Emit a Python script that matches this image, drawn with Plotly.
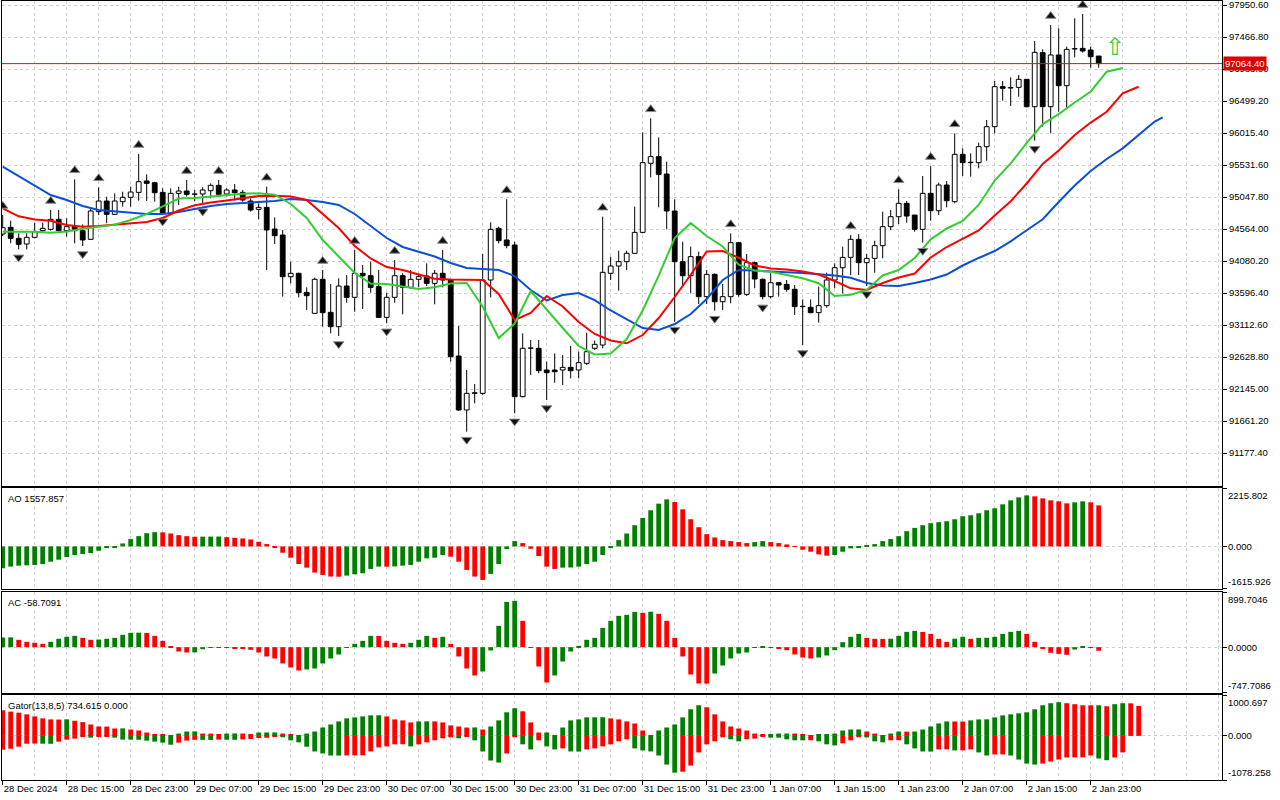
import plotly.graph_objects as go
from plotly.subplots import make_subplots

# ---------------- data ----------------
open_ = [94488, 94589, 94423, 94337, 94438, 94539, 94559, 94710, 94539, 94609,
         94539, 94408, 94826, 94987, 94786, 94977, 95043, 95118, 95290, 95264,
         95118, 94801, 95103, 95138, 95088, 95093, 95143, 95224, 95093, 95154,
         95118, 94987, 94861, 94891, 94564, 94473, 93843, 93894, 93606, 93289,
         93803, 93304, 93087, 93702, 93531, 93894, 93858, 93692, 93228, 93531,
         93858, 93682, 93803, 93853, 93742, 93894, 93793, 92644, 91827, 92079,
         92079, 93793, 94574, 94398, 94322, 92029, 92760, 92760, 92432, 92432,
         92432, 92472, 92432, 92533, 92760, 92810, 93894, 94004, 94070, 94196,
         94513, 95557, 95658, 95395, 94836, 94070, 93858, 94146, 93541, 93878,
         93465, 93541, 94357, 93576, 94055, 93803, 93541, 93752, 93727, 93652,
         93390, 93380, 93299, 93405, 93793, 93979, 94135, 94408, 94055, 94120,
         94312, 94599, 94750, 94952, 94775, 94559, 95103, 94841, 95229, 94977,
         95693, 95567, 95567, 95809, 96111, 96716, 96696, 96706, 96827, 96413,
         97230, 96413, 97195, 96731, 97285, 97295, 97270, 97179]
high = [94776, 94690, 94498, 94498, 94660, 94660, 94851, 94851, 94725, 95315,
        94634, 94876, 95194, 95053, 95103, 95128, 95204, 95698, 95390, 95279,
        95179, 95179, 95204, 95305, 95154, 95194, 95254, 95305, 95179, 95244,
        95154, 95028, 94952, 95204, 94740, 94549, 94070, 93904, 93682, 93828,
        93944, 93732, 93818, 93868, 94246, 94020, 94070, 93944, 93601, 94095,
        93894, 93944, 93894, 94045, 93944, 94246, 93803, 93097, 92432, 92220,
        94186, 94665, 94599, 95013, 94372, 92986, 92886, 92886, 92558, 92684,
        92659, 92795, 92709, 92996, 92875, 94750, 94146, 94236, 94236, 94902,
        96025, 96237, 95950, 95582, 95012, 94372, 94297, 94221, 93944, 93894,
        93732, 94498, 94367, 94186, 94070, 93818, 93894, 93757, 93793, 93717,
        93500, 93500, 93692, 93904, 94045, 94297, 94473, 94488, 94186, 94387,
        94826, 94851, 95164, 94987, 94775, 95365, 95516, 95264, 95290, 96010,
        95783, 95708, 95869, 96212, 96802, 96802, 96857, 96892, 96827, 97406,
        97280, 97648, 97598, 97321, 97749, 97815, 97321, 97179]
low = [94458, 94347, 94256, 94256, 94423, 94524, 94539, 94530, 94448, 94347,
       94307, 94398, 94775, 94650, 94775, 94902, 94902, 94992, 94987, 94977,
       94801, 94775, 94927, 95053, 94987, 94952, 95028, 95053, 95053, 94992,
       94977, 94826, 94710, 93944, 94337, 93541, 93742, 93531, 93339, 93279,
       93087, 92986, 92946, 93450, 93314, 93354, 93601, 93223, 93138, 93450,
       93274, 93657, 93682, 93702, 93425, 93682, 92558, 91812, 91500, 91928,
       92054, 93531, 94347, 94272, 91777, 92019, 92356, 92382, 91978, 92240,
       92205, 92306, 92306, 92508, 92734, 92760, 93793, 93631, 93944, 94196,
       94498, 95345, 94891, 94559, 93163, 93692, 93591, 93430, 93430, 93329,
       93339, 93440, 93541, 93551, 93667, 93500, 93516, 93541, 93616, 93264,
       92810, 93289, 93148, 93374, 93667, 93591, 93868, 93868, 93700, 93904,
       94120, 94549, 94639, 94660, 94523, 94357, 94690, 94775, 94891, 94952,
       95365, 95355, 95481, 95597, 96010, 96504, 96424, 96565, 96403, 95899,
       96111, 96010, 96338, 96403, 97159, 97230, 97003, 97003]
close = [94584, 94423, 94332, 94438, 94524, 94574, 94710, 94539, 94599, 94539,
         94398, 94836, 94987, 94786, 94987, 95043, 95123, 95279, 95254, 95113,
         94811, 95103, 95138, 95088, 95090, 95154, 95224, 95088, 95154, 95113,
         95002, 94851, 94891, 94549, 94463, 93843, 93894, 93601, 93556, 93803,
         93299, 93087, 93702, 93531, 93894, 93858, 93682, 93228, 93531, 93858,
         93682, 93803, 93843, 93742, 93894, 93793, 92634, 91827, 92079, 92089,
         93793, 94559, 94388, 94312, 92029, 92760, 92765, 92422, 92392, 92407,
         92472, 92422, 92543, 92709, 92820, 93909, 94004, 94070, 94196, 94513,
         95567, 95658, 95390, 94836, 94070, 93858, 94146, 93541, 93878, 93465,
         93541, 94357, 93576, 94055, 93808, 93541, 93752, 93717, 93652, 93390,
         93395, 93299, 93405, 93793, 93979, 94135, 94408, 94055, 94120, 94312,
         94599, 94750, 94952, 94760, 94559, 95103, 94841, 95229, 94992, 95693,
         95567, 95567, 95809, 96111, 96716, 96691, 96701, 96827, 96413, 97235,
         96413, 97195, 96731, 97280, 97285, 97255, 97169, 97064.40]
bar_index = list(range(len(close)))

# Alligator lines (read every second bar)
jaw_x = list(range(0, 145, 2)) + [145]
jaw = [95506, 95365, 95222, 95078, 95002, 94912, 94851, 94829, 94806, 94791,
       94791, 94821, 94866, 94912, 94942, 94957, 94972, 94987, 95018, 95002,
       94972, 94927, 94791, 94609, 94428, 94292, 94216, 94148, 94050, 93974,
       93959, 93944, 93853, 93642, 93483, 93566, 93596, 93490, 93332, 93203,
       93067, 93037, 93128, 93279, 93506, 93793, 93944, 93937, 93918, 93909,
       93899, 93884, 93861, 93828, 93748, 93710, 93702, 93748, 93800, 93876,
       94012, 94126, 94231, 94378, 94549, 94711, 94972, 95222, 95441, 95622,
       95783, 95990, 96189, 96253]
teeth_x = list(range(0, 143, 2))
teeth = [94877, 94756, 94709, 94688, 94624, 94599, 94609, 94632, 94649, 94670,
         94730, 94844, 94922, 94965, 94995, 95033, 95063, 95067, 95055, 95002,
         94791, 94579, 94307, 94118, 93989, 93944, 93876, 93812, 93800, 93793,
         93793, 93581, 93188, 93294, 93551, 93392, 93158, 92977, 92878, 92836,
         92961, 93218, 93536, 93873, 94224, 94231, 94129, 94012, 93968, 93953,
         93921, 93875, 93778, 93667, 93642, 93748, 93831, 93890, 94133, 94292,
         94420, 94543, 94768, 94984, 95252, 95547, 95751, 95985, 96173, 96337,
         96614, 96715]
lips_x = list(range(0, 141, 2))
lips = [94523, 94523, 94523, 94506, 94526, 94568, 94602, 94630, 94700, 94791,
        94907, 95024, 95034, 95054, 95078, 95098, 95104, 95083, 94942, 94730,
        94398, 94141, 93899, 93740, 93732, 93695, 93657, 93683, 93740, 93748,
        93389, 92915, 93135, 93627, 93339, 93067, 92795, 92667, 92680, 92901,
        93332, 93858, 94428, 94652, 94458, 94299, 94026, 93935, 93917, 93869,
        93820, 93745, 93551, 93569, 93642, 93862, 93944, 94126, 94408, 94572,
        94685, 94927, 95297, 95556, 95867, 96151, 96300, 96477, 96643, 96942,
        96998]

fractal_up = [0, 6, 9, 12, 17, 23, 27, 33, 40, 44, 49, 55, 63, 75, 81, 91,
              106, 112, 116, 119, 131, 135]
fractal_down = [2, 10, 20, 25, 42, 48, 58, 64, 68, 84, 89, 95, 100, 108, 115, 129]

ao = [-830, -767, -730, -717, -704, -667, -579, -503, -403, -327,
      -289, -252, -164, -63, -25, 113, 277, 390, 503, 541,
      535, 491, 428, 390, 365, 370, 372, 375, 352, 327,
      302, 264, 176, 88, -38, -239, -428, -667, -805, -994,
      -1082, -1145, -1150, -1107, -1057, -1019, -855, -767, -770, -760,
      -730, -704, -579, -453, -428, -327, -390, -579, -893, -1145,
      -1271, -1044, -667, -101, 201, 126, -88, -365, -767, -855,
      -805, -800, -767, -667, -579, -327, -50, 239, 491, 805,
      1082, 1371, 1623, 1786, 1686, 1409, 1032, 730, 465, 340,
      239, 201, 164, 126, 164, 201, 164, 126, 75, -5,
      -126, -201, -302, -352, -327, -201, -75, -25, 38, 88,
      201, 277, 390, 579, 704, 805, 881, 918, 956, 1032,
      1145, 1183, 1258, 1371, 1447, 1598, 1749, 1862, 1937, 1900,
      1824, 1749, 1711, 1635, 1673, 1711, 1673, 1557.857]
ac = [158, 160, 120, 87, 71, 54, 87, 136, 169, 185,
      152, 120, 125, 136, 152, 201, 234, 236, 233, 185,
      103, 16, -71, -87, -85, -33, -11, -2, -5, -16,
      -22, -43, -87, -152, -185, -266, -332, -381, -364, -348,
      -266, -185, -120, -5, 54, 103, 185, 184, 103, 71,
      54, 71, 120, 185, 152, 169, 54, -152, -348, -462,
      -397, -54, 348, 739, 756, 430, -5, -315, -576, -462,
      -234, -71, 22, 120, 152, 315, 430, 511, 527, 576,
      560, 578, 544, 430, 152, -152, -446, -593, -595, -430,
      -299, -185, -103, -87, -5, 16, -11, -16, -49, -120,
      -169, -185, -169, -136, -49, 82, 169, 217, 152, 136,
      134, 137, 185, 250, 266, 248, 217, 136, 87, 137,
      169, 136, 152, 153, 169, 217, 250, 266, 217, 87,
      -16, -92, -109, -125, -38, 16, -3, -58.7091]
gator_up = [627, 594, 569, 528, 478, 429, 404, 400, 405, 371,
            338, 280, 231, 229, 182, 185, 157, 132, 83, 33,
            25, 15, 58, 107, 110, 58, 56, 33, 58, 60,
            58, 33, 83, 85, 86, 58, 33, 5, 58, 107,
            206, 280, 355, 429, 454, 478, 503, 505, 478, 404,
            380, 330, 355, 357, 355, 330, 256, 231, 206, 208,
            157, 231, 380, 578, 677, 602, 330, 83, 85, 10,
            206, 380, 404, 454, 456, 458, 429, 404, 355, 305,
            132, 10, 132, 206, 280, 454, 652, 751, 701, 528,
            355, 231, 182, 132, 58, 25, 41, 58, 59, 57,
            25, 5, 25, 27, 58, 132, 157, 158, 107, 58,
            5, 58, 107, 105, 108, 157, 231, 305, 355, 353,
            351, 380, 404, 406, 454, 503, 528, 553, 578, 652,
            751, 800, 825, 800, 776, 751, 749, 751, 726, 776,
            800, 798, 734.615]
gator_dn = [-338, -313, -264, -190, -188, -190, -192, -140, -91, -66,
            -16, -41, -10, -5, -41, -90, -92, -94, -115, -140,
            -165, -215, -165, -115, -95, -97, -99, -90, -93, -95,
            -85, -75, -50, -45, -25, -33, -107, -157, -264, -380,
            -429, -479, -481, -478, -476, -474, -380, -281, -256, -206,
            -204, -256, -206, -157, -107, -58, -33, -58, -8, -107,
            -380, -602, -652, -429, -33, -206, -330, -107, -256, -330,
            -305, -380, -382, -330, -305, -256, -206, -132, -83, -305,
            -355, -380, -479, -701, -899, -875, -726, -404, -206, -132,
            -33, -83, -132, -80, -66, -16, -41, -42, -83, -107,
            -108, -106, -132, -206, -231, -181, -107, -33, -35, -132,
            -157, -107, -105, -206, -305, -380, -382, -330, -328, -355,
            -353, -330, -404, -479, -454, -452, -479, -578, -677, -701,
            -677, -627, -578, -528, -526, -524, -479, -553, -594, -528,
            -404]

tick_idx = list(range(0, 137, 8))
tick_text = ["28 Dec 2024", "28 Dec 15:00", "28 Dec 23:00", "29 Dec 07:00",
             "29 Dec 15:00", "29 Dec 23:00", "30 Dec 07:00", "30 Dec 15:00",
             "30 Dec 23:00", "31 Dec 07:00", "31 Dec 15:00", "31 Dec 23:00",
             "1 Jan 07:00", "1 Jan 15:00", "1 Jan 23:00", "2 Jan 07:00",
             "2 Jan 15:00", "2 Jan 23:00"]
price_ticks = [97950.60, 97466.80, 96983.00, 96499.20, 96015.40, 95531.60,
               95047.80, 94564.00, 94080.20, 93596.40, 93112.60, 92628.80,
               92145.00, 91661.20, 91177.40]
last_price = 97064.40
signal_bar = 139
signal_price = 97316

ao_range = [-1615.926, 2215.802]
ac_range = [-747.7086, 899.7046]
gator_range = [-1078.258, 1000.697]
ao_last, ac_last = 1557.857, -58.7091
price_range = [90678.4, 98011.1]
x_range = [-0.0875, 152.4125]

assert len(open_) == len(high) == len(low) == len(close) == 138
assert len(jaw) == len(jaw_x) and len(teeth) == len(teeth_x) and len(lips) == len(lips_x)
assert len(ao) == 138 and len(ac) == 138 and len(gator_up) == 143 and len(gator_dn) == 141

# ---------------- styles ----------------
GREEN = "#008000"
RED = "#ff0000"
GRID = "#d0d0d0"
FONT = "Liberation Sans"
FS = 9.5


def hist_colors(vals, first, magnitude=False):
    cols = [first]
    for i in range(1, len(vals)):
        a, b = vals[i], vals[i - 1]
        if magnitude:
            a, b = abs(a), abs(b)
        cols.append(GREEN if a > b else RED)
    return cols


fig = make_subplots(rows=4, cols=1, shared_xaxes=True, vertical_spacing=0.0)

# candle wicks (drawn outside the bodies)
wx, wy = [], []
for k in bar_index:
    top = max(open_[k], close[k])
    bot = min(open_[k], close[k])
    wx += [k, k, None, k, k, None]
    wy += [high[k], top, None, bot, low[k], None]
fig.add_trace(go.Scatter(x=wx, y=wy, mode="lines", line=dict(color="black", width=1),
                         hoverinfo="skip"), row=1, col=1)

# candle bodies
base = [min(o, c) for o, c in zip(open_, close)]
height = [max(abs(c - o), 6) for o, c in zip(open_, close)]
body_col = ["white" if c >= o else "black" for o, c in zip(open_, close)]
fig.add_trace(go.Bar(x=bar_index, y=height, base=base, width=0.6,
                     marker=dict(color=body_col, line=dict(color="black", width=1))),
              row=1, col=1)

# alligator
fig.add_trace(go.Scatter(x=jaw_x, y=jaw, mode="lines", line=dict(color="#0b4fd6", width=2)), row=1, col=1)
fig.add_trace(go.Scatter(x=teeth_x, y=teeth, mode="lines", line=dict(color="#ff0000", width=2)), row=1, col=1)
fig.add_trace(go.Scatter(x=lips_x, y=lips, mode="lines", line=dict(color="#32cd32", width=2)), row=1, col=1)

# fractals
px_per_price = (price_range[1] - price_range[0]) / 485.0
fig.add_trace(go.Scatter(x=fractal_up, y=[high[k] + 9 * px_per_price for k in fractal_up],
                         mode="markers",
                         marker=dict(symbol="triangle-up", size=9, color="#111111",
                                     line=dict(color="#8a8a8a", width=1))), row=1, col=1)
fig.add_trace(go.Scatter(x=fractal_down, y=[low[k] - 8 * px_per_price for k in fractal_down],
                         mode="markers",
                         marker=dict(symbol="triangle-down", size=9, color="#111111",
                                     line=dict(color="#8a8a8a", width=1))), row=1, col=1)

# AO
fig.add_trace(go.Bar(x=list(range(len(ao))), y=ao, width=0.6,
                     marker=dict(color=hist_colors(ao, GREEN), line=dict(width=0))), row=2, col=1)
# AC
fig.add_trace(go.Bar(x=list(range(len(ac))), y=ac, width=0.6,
                     marker=dict(color=hist_colors(ac, GREEN), line=dict(width=0))), row=3, col=1)
# Gator
fig.add_trace(go.Bar(x=list(range(len(gator_up))), y=gator_up, width=0.6,
                     marker=dict(color=hist_colors(gator_up, RED), line=dict(width=0))), row=4, col=1)
fig.add_trace(go.Bar(x=list(range(len(gator_dn))), y=gator_dn, width=0.6,
                     marker=dict(color=hist_colors(gator_dn, RED, magnitude=True), line=dict(width=0))),
              row=4, col=1)

fig.update_layout(
    width=1280, height=800,
    margin=dict(l=2, r=58, t=1, b=20, autoexpand=False),
    paper_bgcolor="white", plot_bgcolor="white",
    showlegend=False, barmode="overlay",
    font=dict(family=FONT, size=FS, color="black"),
)

domains = {1: [0.3774, 1.0], 2: [0.2452, 0.3748], 3: [0.1117, 0.2413], 4: [0.0, 0.1091]}
for r in range(1, 5):
    fig.update_yaxes(domain=domains[r], row=r, col=1)

common_x = dict(range=x_range, showline=True, mirror=True, linecolor="black", linewidth=1,
                tickmode="array", tickvals=tick_idx, showgrid=True, gridcolor=GRID,
                griddash="3px,3px", gridwidth=1, zeroline=False, automargin=False,
                minor=dict(tickmode="linear", tick0=0, dtick=4, showgrid=True,
                           gridcolor=GRID, griddash="3px,3px", gridwidth=1))
for r in range(1, 4):
    fig.update_xaxes(**common_x, showticklabels=False, ticks="", row=r, col=1)
fig.update_xaxes(**common_x, ticktext=tick_text, showticklabels=True, ticks="outside",
                 ticklen=4, tickcolor="black", ticklabelposition="outside right",
                 tickangle=0, tickfont=dict(family=FONT, size=FS, color="black"),
                 row=4, col=1)

fig.update_yaxes(range=price_range, side="right", tickmode="array", tickvals=price_ticks,
                 ticktext=[f"{p:.2f}" for p in price_ticks], ticks="outside", ticklen=4,
                 tickcolor="black", showline=True, mirror=True, linecolor="black",
                 showgrid=True, gridcolor=GRID, griddash="3px,3px", zeroline=False,
                 automargin=False, ticklabeloverflow="allow",
                 tickfont=dict(family=FONT, size=FS, color="black"),
                 row=1, col=1)

ind_ranges = {2: ao_range, 3: ac_range, 4: gator_range}
for r, rg in ind_ranges.items():
    fig.update_yaxes(range=rg, side="right", tickmode="array", tickvals=[rg[0], 0, rg[1]],
                     showticklabels=False, ticks="outside", ticklen=4, tickcolor="black",
                     showline=True, mirror=True, linecolor="black", showgrid=True,
                     gridcolor=GRID, griddash="3px,3px", zeroline=False, automargin=False,
                     row=r, col=1)

# current price line + label
fig.add_shape(type="line", xref="x domain", x0=0, x1=1, yref="y", y0=last_price, y1=last_price,
              line=dict(color=RED, width=1))
annotations = [
    dict(xref="paper", x=1, xanchor="left", xshift=1, yref="y", y=last_price, yanchor="middle",
         text=f"{last_price:.2f}", showarrow=False, bgcolor="#e00000",
         font=dict(color="white", family=FONT, size=FS), borderpad=1),
    dict(x=signal_bar, y=signal_price, xref="x", yref="y", text="⇧", showarrow=False,
         font=dict(family="DejaVu Sans", size=24, color="#32cd32")),
]

ind_labels = {2: f"AO {ao_last:.3f}", 3: f"AC {ac_last:.4f}",
              4: f"Gator(13,8,5) {gator_up[-1]:.3f} {0:.3f}"}
right_fmt = {2: "{:.3f}", 3: "{:.4f}", 4: "{:.3f}"}
for r, rg in ind_ranges.items():
    yref = f"y{r}"
    annotations.append(dict(xref="x domain", x=0, xanchor="left", xshift=4,
                            yref=f"{yref} domain", y=1, yanchor="top", yshift=-3,
                            text=ind_labels[r], showarrow=False,
                            font=dict(family=FONT, size=FS, color="black")))
    fmt = right_fmt[r]
    for val, anc in [(rg[1], "top"), (0, "middle"), (rg[0], "bottom")]:
        annotations.append(dict(xref="paper", x=1, xanchor="left", xshift=4,
                                yref=yref, y=val, yanchor=anc,
                                text=fmt.format(val), showarrow=False,
                                font=dict(family=FONT, size=FS, color="black")))
fig.update_layout(annotations=annotations)

fig.write_html("out.html", config={"displayModeBar": False},
               post_script="document.body.style.margin='0';document.body.style.padding='0';")
